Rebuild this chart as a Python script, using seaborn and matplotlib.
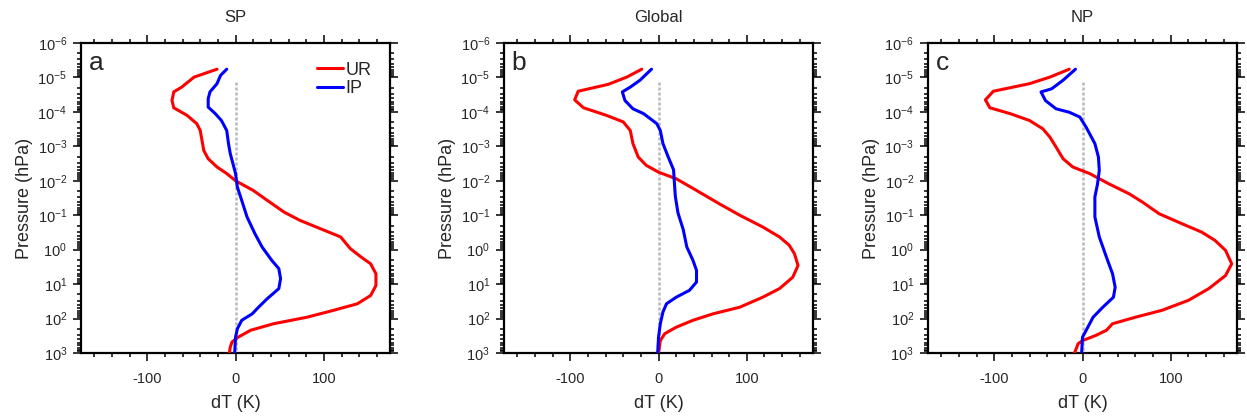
import numpy as np
import pandas as pd
import matplotlib
matplotlib.use("Agg")
import matplotlib.pyplot as plt
import matplotlib.ticker as mticker
import seaborn as sns

# ---------------- data ----------------
panel_titles = ["SP", "Global", "NP"]
panel_letters = ["a", "b", "c"]
series_names = ["UR", "IP"]

# log10(pressure / hPa) and dT (K) for each curve
sp_ur_logp = [-5.24, -5.01, -4.72, -4.58, -4.33, -4.12, -3.90, -3.66, -3.46, -3.17, -2.88, -2.64,
              -2.40, -2.21, -2.00, -1.72, -1.43, -1.09, -0.85, -0.61, -0.37, -0.03, 0.21, 0.41,
              0.70, 1.04, 1.33, 1.57, 1.76, 1.96, 2.15, 2.34, 2.54, 2.68, 2.83, 3.00]
sp_ur_dt = [-21, -47, -61, -70, -72, -70, -55, -44, -40, -38, -36, -31,
            -21, -10, 0, 20, 36, 55, 73, 96, 119, 130, 142, 153,
            159, 159, 153, 138, 111, 81, 43, 17, 3, -4, -6, -7]

sp_ip_logp = [-5.24, -5.06, -4.82, -4.58, -4.38, -4.14, -3.95, -3.75, -3.46, -3.08, -2.79, -2.50,
              -2.21, -1.82, -1.43, -0.95, -0.46, -0.08, 0.31, 0.55, 0.84, 1.13, 1.42, 1.67,
              1.86, 2.05, 2.30, 2.54, 3.00]
sp_ip_dt = [-10, -17, -21, -29, -31, -31, -23, -16, -10, -8, -6, -3,
            0, 2, 7, 13, 22, 30, 41, 49, 51, 49, 36, 26,
            19, 7, 2, 0, -1]

gl_ur_logp = [-5.24, -5.01, -4.80, -4.60, -4.35, -4.12, -3.90, -3.71, -3.46, -3.08, -2.69, -2.45,
              -2.25, -2.06, -1.72, -1.33, -1.00, -0.66, -0.37, -0.13, 0.12, 0.46, 0.80, 1.13,
              1.38, 1.67, 1.86, 2.05, 2.25, 2.44, 2.64, 3.00]
gl_ur_dt = [-19, -36, -57, -91, -95, -85, -59, -40, -32, -29, -23, -14,
            0, 20, 43, 69, 92, 118, 137, 148, 154, 158, 152, 137,
            118, 92, 62, 39, 20, 7, 2, 0]

gl_ip_logp = [-5.24, -4.92, -4.72, -4.58, -4.33, -4.09, -3.95, -3.66, -3.46, -3.08, -2.69, -2.32,
              -1.93, -1.55, -1.07, -0.58, -0.08, 0.31, 0.60, 0.94, 1.18, 1.38, 1.57, 1.81,
              2.15, 2.54, 3.00]
gl_ip_dt = [-8, -21, -32, -41, -38, -29, -17, -2, 2, 5, 11, 17,
            18, 19, 22, 28, 32, 39, 43, 43, 35, 20, 9, 5,
            2, 0, -1]

np_ur_logp = [-5.24, -5.01, -4.82, -4.60, -4.35, -4.12, -3.95, -3.75, -3.51, -3.27, -2.98, -2.64,
              -2.40, -2.21, -1.91, -1.62, -1.38, -1.04, -0.75, -0.51, -0.27, 0.02, 0.41, 0.75,
              1.13, 1.47, 1.76, 1.96, 2.15, 2.34, 2.49, 2.64, 2.73, 3.00]
np_ur_dt = [-15, -37, -60, -101, -110, -105, -82, -60, -45, -37, -30, -22,
            -11, 8, 30, 53, 68, 87, 113, 135, 150, 162, 169, 162,
            143, 120, 90, 60, 34, 27, 15, 0, -5, -9]

np_ip_logp = [-5.24, -4.92, -4.67, -4.58, -4.33, -4.09, -3.99, -3.85, -3.56, -3.08, -2.69, -2.30,
              -1.91, -1.53, -0.95, -0.37, 0.21, 0.70, 1.09, 1.38, 1.67, 1.96, 2.25, 2.54, 3.00]
np_ip_dt = [-8, -22, -35, -47, -42, -30, -15, -3, 4, 14, 18, 19,
            17, 14, 14, 19, 27, 34, 37, 35, 23, 12, 6, 0, -1]

zero_line_top_logp = -4.87   # top of the dashed zero reference line
zero_line_bottom_logp = 3.0

xlim = (-175, 175)
ylim = (1e-6, 1e3)
x_major = [-100, 0, 100]

panels = [
    [(sp_ur_logp, sp_ur_dt), (sp_ip_logp, sp_ip_dt)],
    [(gl_ur_logp, gl_ur_dt), (gl_ip_logp, gl_ip_dt)],
    [(np_ur_logp, np_ur_dt), (np_ip_logp, np_ip_dt)],
]
colors = {"UR": "#ff0000", "IP": "#0000ff"}

# ---------------- plotting ----------------
sns.set_theme(style="white")
plt.rcParams["font.family"] = ["Liberation Sans", "DejaVu Sans"]
plt.rcParams["mathtext.fontset"] = "custom"
plt.rcParams["mathtext.rm"] = "Liberation Sans"
plt.rcParams["mathtext.it"] = "Liberation Sans:italic"
plt.rcParams["axes.unicode_minus"] = False

fig = plt.figure(figsize=(12.47, 4.16), dpi=100)
lefts = [0.065, 0.4042, 0.7442]
bottom, width, height = 0.1514, 0.2478, 0.7452

for i, (left, curves) in enumerate(zip(lefts, panels)):
    ax = fig.add_axes([left, bottom, width, height])
    # zero reference line
    zl = pd.DataFrame({"x": [0, 0], "p": [10 ** zero_line_top_logp, 10 ** zero_line_bottom_logp]})
    ax.plot(zl["x"], zl["p"], color="#b8b8b8", lw=1.8, ls=(0, (1.2, 0.8)), zorder=1)
    for name, (logp, dt) in zip(series_names, curves):
        df = pd.DataFrame({"dT": dt, "p": np.power(10.0, logp)})
        sns.lineplot(data=df, x="dT", y="p", sort=False, estimator=None,
                     color=colors[name], lw=2.2, ax=ax, label=name if i == 0 else None,
                     zorder=3)
    ax.set_yscale("log")
    ax.set_ylim(ylim[1], ylim[0])
    ax.set_xlim(*xlim)
    ax.yaxis.set_major_locator(mticker.LogLocator(base=10, numticks=20))
    ax.yaxis.set_minor_locator(mticker.LogLocator(base=10, subs=np.arange(2, 10), numticks=20))
    ax.yaxis.set_major_formatter(mticker.LogFormatterSciNotation())
    ax.yaxis.set_minor_formatter(mticker.NullFormatter())
    ax.xaxis.set_major_locator(mticker.FixedLocator(x_major))
    ax.xaxis.set_minor_locator(mticker.MultipleLocator(20))
    ax.tick_params(which="both", direction="out", top=True, right=True, bottom=True, left=True,
                   labeltop=False, labelright=False, color="black", width=1.1)
    ax.tick_params(which="major", length=6, labelsize=10.5)
    ax.tick_params(axis="x", which="major", pad=8)
    ax.tick_params(axis="y", which="major", pad=4)
    ax.tick_params(which="minor", length=3)
    for s in ax.spines.values():
        s.set_linewidth(1.6)
        s.set_color("black")
    ax.set_xlabel("dT (K)", fontsize=13, labelpad=6)
    ax.set_ylabel("Pressure (hPa)", fontsize=13, labelpad=3)
    ax.set_title(panel_titles[i], fontsize=12, pad=15)
    ax.text(0.025, 0.975, panel_letters[i], transform=ax.transAxes, fontsize=19,
            ha="left", va="top")
    if i == 0:
        ax.legend(loc="upper right", bbox_to_anchor=(0.975, 0.975), frameon=False,
                  fontsize=13, handlelength=1.45, handletextpad=0.12, labelspacing=0.08,
                  borderaxespad=0.2)
    else:
        leg = ax.get_legend()
        if leg is not None:
            leg.remove()

fig.savefig("out.png", dpi=100)
